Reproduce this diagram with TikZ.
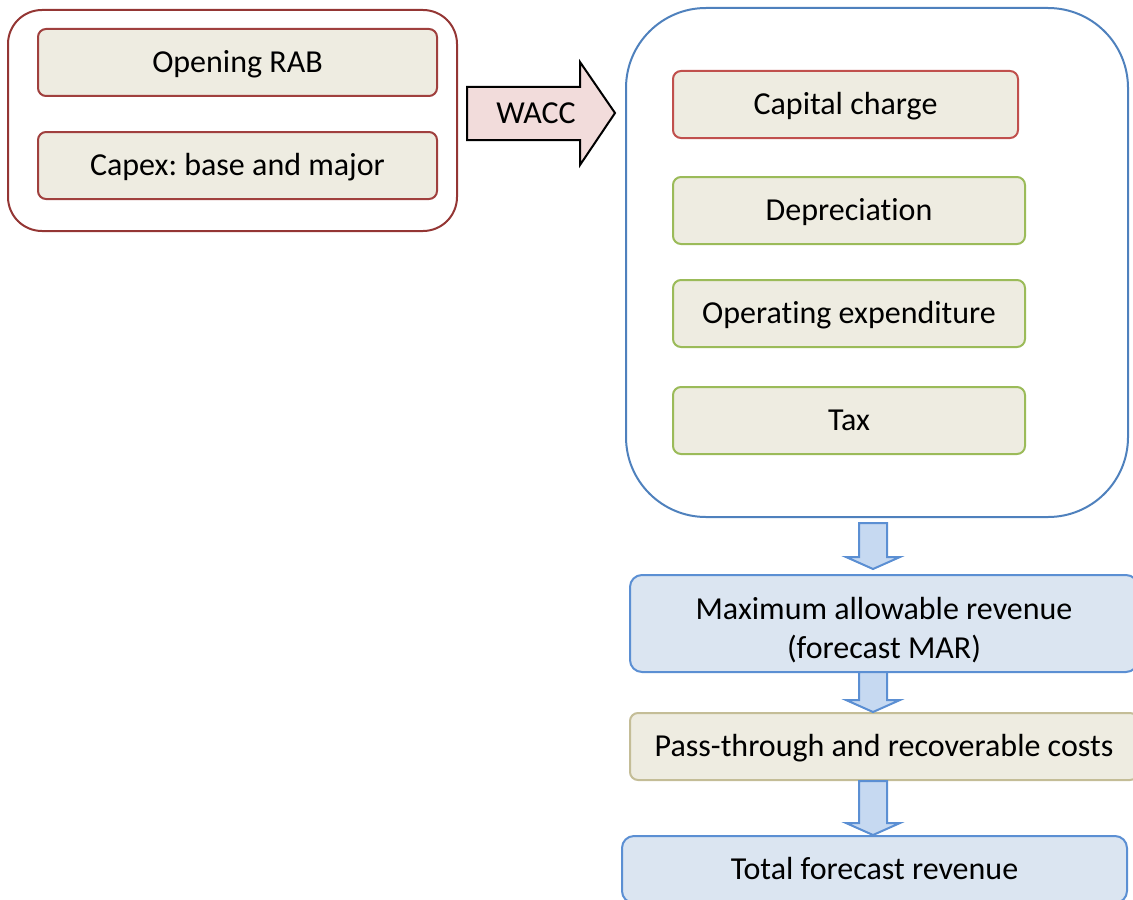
\documentclass[tikz,border=0pt]{standalone}
\usepackage{fontspec}
\setmainfont{Carlito}[Ligatures={NoCommon,NoContextual}]
\usepackage{xcolor}
\frenchspacing

\definecolor{boxfill}{HTML}{EEECE1}
\definecolor{darkred}{HTML}{943634}
\definecolor{boxred}{HTML}{A0403E}
\definecolor{capred}{HTML}{C0504D}
\definecolor{boxgreen}{HTML}{9BBB59}
\definecolor{outblue}{HTML}{4F81BD}
\definecolor{marfill}{HTML}{DBE5F1}
\definecolor{marline}{HTML}{5B8FD3}
\definecolor{arrfill}{HTML}{C6D9F1}
\definecolor{tanline}{HTML}{C4BD97}
\definecolor{waccfill}{HTML}{F2DCDB}

\tikzset{
  cell/.style={draw,fill=boxfill,line width=1pt,rounded corners=4pt,
    inner sep=0pt,align=center,font=\fontsize{16}{19.5}\selectfont,
    text height=11pt,text depth=1.4pt},
  frame/.style={draw,line width=1pt,inner sep=0pt},
  blockarr/.style={draw=marline,fill=arrfill,line width=1pt,line join=miter}
}

% x, top of shaft, tip
\newcommand{\downblock}[3]{%
  \draw[blockarr] (#1-14,#2) -- (#1+14,#2) -- (#1+14,#3-12) -- (#1+27,#3-12)
    -- (#1,#3) -- (#1-27,#3-12) -- (#1-14,#3-12) -- cycle;}

\begin{document}
\begin{tikzpicture}[x=0.5pt,y=-0.5pt]
\useasboundingbox (0,0) rectangle (1133,899);
\clip (0,0) rectangle (1133,899);

% left group
\node[frame,draw=darkred,rounded corners=17pt,minimum width=224.5pt,minimum height=110.5pt] (inputs) at (232.5,120.5) {};
\node[cell,draw=boxred,minimum width=199.5pt,minimum height=33.5pt] (rab) at (237.5,62.5) {Opening RAB};
\node[cell,draw=boxred,minimum width=199.5pt,minimum height=33.5pt] (capex) at (237.5,165.5) {Capex: base and major};

% WACC arrow
\draw[fill=waccfill,line width=1pt,line join=miter] (467,87) -- (580,87) -- (580,62) -- (615,113)
  -- (580,165) -- (580,140) -- (467,140) -- cycle;
\node[font=\fontsize{16}{19.5}\selectfont] (wacc) at (536,113) {WACC};

% building blocks
\node[frame,draw=outblue,rounded corners=40pt,minimum width=251pt,minimum height=254.5pt] (blocks) at (877,262.5) {};
\node[cell,draw=capred,minimum width=172.5pt,minimum height=33.5pt] (capital) at (845.5,104.5) {Capital charge};
\node[cell,draw=boxgreen,minimum width=176pt,minimum height=33.5pt] (depn) at (849,210.5) {Depreciation};
\node[cell,draw=boxgreen,minimum width=176pt,minimum height=33.5pt] (opex) at (849,313.5) {Operating expenditure};
\node[cell,draw=boxgreen,minimum width=176pt,minimum height=33.5pt] (tax) at (849,420.5) {Tax};

% revenue chain
\node[cell,draw=marline,fill=marfill,rounded corners=6pt,minimum width=254pt,minimum height=48.5pt,
  text height=35pt,text depth=0pt] (mar) at (884,623.5) {Maximum allowable revenue\\(forecast MAR)};
\node[cell,draw=tanline,minimum width=254pt,minimum height=33.5pt] (pass) at (884,746.5) {Pass-through and recoverable costs};
\node[cell,draw=marline,fill=marfill,rounded corners=6pt,minimum width=252.5pt,minimum height=33.5pt] (total) at (874.5,869.5) {Total forecast revenue};

\downblock{873}{523}{569}
\downblock{873}{672}{712}
\downblock{873}{781}{835}
\end{tikzpicture}
\end{document}
